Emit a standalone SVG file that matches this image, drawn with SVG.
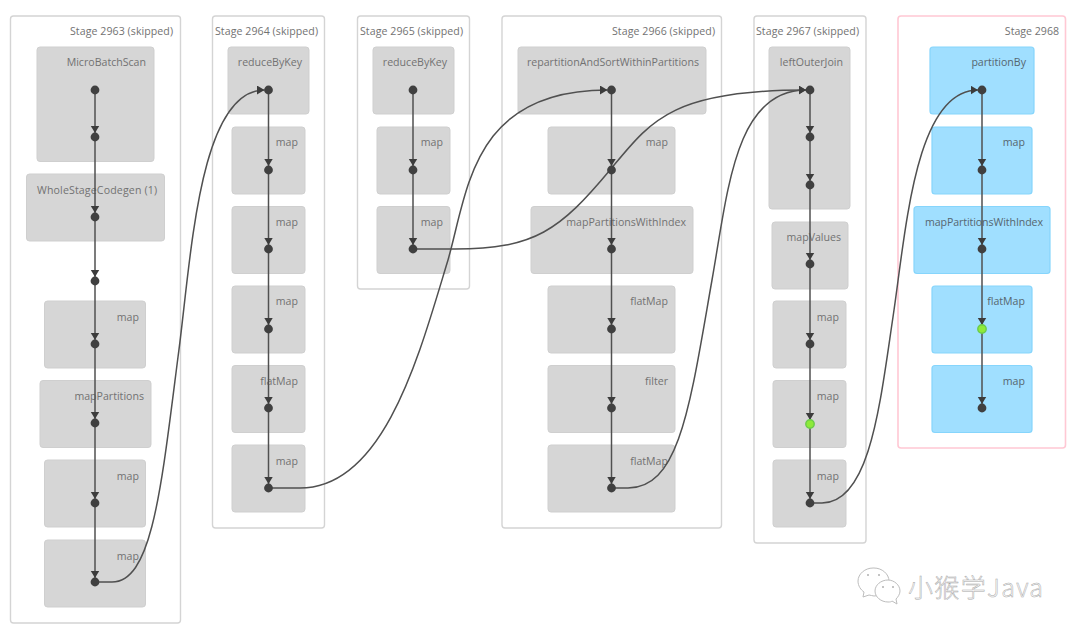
<svg xmlns="http://www.w3.org/2000/svg" width="1080" height="634" viewBox="0 0 1080 634">
<defs>
<style>
text{font-family:"Open Sans","Noto Sans","Liberation Sans",sans-serif;font-size:10.6px;fill:#727272;text-anchor:end}
.bt{fill:#56666f}
.stage{fill:#fff;stroke:#d4d4d4;stroke-width:1.4}
.pink{fill:#fff;stroke:#ffc8d4;stroke-width:1.6}
.op{fill:#d6d6d6;stroke:#cfcfcf;stroke-width:1}
.blue{fill:#a0dfff;stroke:#86d5fc;stroke-width:1.2}
.dot{fill:#404040}
.green{fill:#8eea3a;stroke:#6acb4a;stroke-width:1.4}
.e{fill:none;stroke:#505050;stroke-width:1.5;marker-end:url(#a)}
.wm{font-family:"Noto Sans CJK SC",sans-serif;font-weight:300;font-size:25px;fill:#fff;stroke:#a8a8a8;stroke-width:.5;text-anchor:start}
.ic{fill:#fff;stroke:#bdbdbd;stroke-width:1}
.eye{fill:#b0b0b0}
</style>
<marker id="a" markerUnits="userSpaceOnUse" markerWidth="10" markerHeight="10" refX="7.500" refY="4.500" orient="auto"><path d="M0,0L7.500,4.500L0,9Z" fill="#3c3c3c"/></marker>
</defs>

<g id="stage-2963"><rect class="stage" x="10.500" y="16" width="170" height="607" rx="3"/><text x="173" y="35" textLength="103">Stage 2963 (skipped)</text></g>
<g id="stage-2964"><rect class="stage" x="212.500" y="16" width="112" height="512" rx="3"/><text x="318" y="35" textLength="103">Stage 2964 (skipped)</text></g>
<g id="stage-2965"><rect class="stage" x="357.500" y="16" width="112" height="273" rx="3"/><text x="463" y="35" textLength="103">Stage 2965 (skipped)</text></g>
<g id="stage-2966"><rect class="stage" x="502" y="16" width="219.500" height="512" rx="3"/><text x="715" y="35" textLength="103">Stage 2966 (skipped)</text></g>
<g id="stage-2967"><rect class="stage" x="754" y="16" width="112" height="527" rx="3"/><text x="859" y="35" textLength="103">Stage 2967 (skipped)</text></g>
<g id="stage-2968"><rect class="pink" x="898" y="16" width="167.500" height="432" rx="3"/><text x="1059" y="35">Stage 2968</text></g>

<g id="n63-1"><rect class="op" x="37" y="47" width="117" height="114.500" rx="3"/><text x="146" y="66">MicroBatchScan</text></g>
<g id="n63-2"><rect class="op" x="26.500" y="174" width="138" height="67" rx="3"/><text x="157" y="194" textLength="120">WholeStageCodegen (1)</text></g>
<g id="n63-3"><rect class="op" x="44.500" y="301" width="101" height="67" rx="3"/><text x="139" y="321">map</text></g>
<g id="n63-4"><rect class="op" x="40" y="380.500" width="111" height="67" rx="3"/><text x="144" y="400">mapPartitions</text></g>
<g id="n63-5"><rect class="op" x="44.500" y="460" width="101" height="67" rx="3"/><text x="139" y="480">map</text></g>
<g id="n63-6"><rect class="op" x="44.500" y="540" width="101" height="67" rx="3"/><text x="139" y="560">map</text></g>

<g id="n64-1"><rect class="op" x="228" y="47" width="81" height="67" rx="3"/><text x="302" y="66">reduceByKey</text></g>
<g id="n64-2"><rect class="op" x="232" y="127" width="73" height="67" rx="3"/><text x="298" y="146">map</text></g>
<g id="n64-3"><rect class="op" x="232" y="206.500" width="73" height="67" rx="3"/><text x="298" y="226">map</text></g>
<g id="n64-4"><rect class="op" x="232" y="286" width="73" height="67" rx="3"/><text x="298" y="305">map</text></g>
<g id="n64-5"><rect class="op" x="232" y="365.500" width="73" height="67" rx="3"/><text x="298" y="385">flatMap</text></g>
<g id="n64-6"><rect class="op" x="232" y="445" width="73" height="67" rx="3"/><text x="298" y="465">map</text></g>

<g id="n65-1"><rect class="op" x="373" y="47" width="81" height="67" rx="3"/><text x="447" y="66">reduceByKey</text></g>
<g id="n65-2"><rect class="op" x="377" y="127" width="73" height="67" rx="3"/><text x="443" y="146">map</text></g>
<g id="n65-3"><rect class="op" x="377" y="206.500" width="73" height="67" rx="3"/><text x="443" y="226">map</text></g>

<g id="n66-1"><rect class="op" x="518" y="47" width="188" height="67" rx="3"/><text x="699" y="66">repartitionAndSortWithinPartitions</text></g>
<g id="n66-2"><rect class="op" x="548" y="127" width="127" height="67" rx="3"/><text x="668" y="146">map</text></g>
<g id="n66-3"><rect class="op" x="531" y="206.500" width="162" height="67" rx="3"/><text x="686" y="226">mapPartitionsWithIndex</text></g>
<g id="n66-4"><rect class="op" x="548" y="286" width="127" height="67" rx="3"/><text x="668" y="305">flatMap</text></g>
<g id="n66-5"><rect class="op" x="548" y="365.500" width="127" height="67" rx="3"/><text x="668" y="385">filter</text></g>
<g id="n66-6"><rect class="op" x="548" y="445" width="127" height="67" rx="3"/><text x="668" y="465">flatMap</text></g>

<g id="n67-1"><rect class="op" x="769" y="47" width="81" height="162" rx="3"/><text x="843" y="66">leftOuterJoin</text></g>
<g id="n67-2"><rect class="op" x="772" y="222" width="76" height="67" rx="3"/><text x="841" y="241">mapValues</text></g>
<g id="n67-3"><rect class="op" x="773" y="301" width="73" height="67" rx="3"/><text x="839" y="321">map</text></g>
<g id="n67-4"><rect class="op" x="773" y="380.500" width="73" height="67" rx="3"/><text x="839" y="400">map</text></g>
<g id="n67-5"><rect class="op" x="773" y="460" width="73" height="67" rx="3"/><text x="839" y="480">map</text></g>

<g id="n68-1"><rect class="blue" x="930" y="47" width="104" height="67" rx="3"/><text class="bt" x="1026" y="66">partitionBy</text></g>
<g id="n68-2"><rect class="blue" x="932" y="127" width="100" height="67" rx="3"/><text class="bt" x="1025" y="146">map</text></g>
<g id="n68-3"><rect class="blue" x="914" y="206.500" width="136" height="67" rx="3"/><text class="bt" x="1043" y="226" textLength="118">mapPartitionsWithIndex</text></g>
<g id="n68-4"><rect class="blue" x="932" y="286" width="100" height="67" rx="3"/><text class="bt" x="1025" y="305">flatMap</text></g>
<g id="n68-5"><rect class="blue" x="932" y="365.500" width="100" height="67" rx="3"/><text class="bt" x="1025" y="385">map</text></g>

<g id="connectors">
<path class="e" d="M95,90V133"/><path class="e" d="M95,137V213"/><path class="e" d="M95,217V277"/><path class="e" d="M95,281V340"/><path class="e" d="M95,344V419"/><path class="e" d="M95,423V499"/><path class="e" d="M95,503V578"/>
<path class="e" d="M268.500,90V166"/><path class="e" d="M268.500,170V245"/><path class="e" d="M268.500,249V325"/><path class="e" d="M268.500,329V404"/><path class="e" d="M268.500,408V484"/>
<path class="e" d="M413,90V166"/><path class="e" d="M413,170V245"/>
<path class="e" d="M611.500,90V166"/><path class="e" d="M611.500,170V245"/><path class="e" d="M611.500,249V325"/><path class="e" d="M611.500,329V404"/><path class="e" d="M611.500,408V484"/>
<path class="e" d="M810,90V133"/><path class="e" d="M810,137V181"/><path class="e" d="M810,185V260"/><path class="e" d="M810,264V340"/><path class="e" d="M810,344V420"/><path class="e" d="M810,424V499"/>
<path class="e" d="M982,90V166"/><path class="e" d="M982,170V245"/><path class="e" d="M982,249V325"/><path class="e" d="M982,329V404"/>
<path class="e" d="M95,582H112C152,582 161,490 178,357C191,262 198,90 264.500,90"/>
<path class="e" d="M268.500,488H300C385,488 420,352 448,260C468,190 472,90 607.500,90"/>
<path class="e" d="M413,249H455C535,249 560,230 610,170C650,122 670,90 806,90"/>
<path class="e" d="M611.500,488H628C680,488 690,405 712,280C728,190 735,90 806,90"/>
<path class="e" d="M810,503H822C870,503 880,404 893,317C906,230 915,90 978,90"/>
</g>

<g id="dots">
<g class="dot"><circle cx="95" cy="90" r="4.400"/><circle cx="95" cy="137" r="4.400"/><circle cx="95" cy="217" r="4.400"/><circle cx="95" cy="281" r="4.400"/><circle cx="95" cy="344" r="4.400"/><circle cx="95" cy="423" r="4.400"/><circle cx="95" cy="503" r="4.400"/><circle cx="95" cy="582" r="4.400"/>
<circle cx="268.500" cy="90" r="4.400"/><circle cx="268.500" cy="170" r="4.400"/><circle cx="268.500" cy="249" r="4.400"/><circle cx="268.500" cy="329" r="4.400"/><circle cx="268.500" cy="408" r="4.400"/><circle cx="268.500" cy="488" r="4.400"/>
<circle cx="413" cy="90" r="4.400"/><circle cx="413" cy="170" r="4.400"/><circle cx="413" cy="249" r="4.400"/>
<circle cx="611.500" cy="90" r="4.400"/><circle cx="611.500" cy="170" r="4.400"/><circle cx="611.500" cy="249" r="4.400"/><circle cx="611.500" cy="329" r="4.400"/><circle cx="611.500" cy="408" r="4.400"/><circle cx="611.500" cy="488" r="4.400"/>
<circle cx="810" cy="90" r="4.400"/><circle cx="810" cy="137" r="4.400"/><circle cx="810" cy="185" r="4.400"/><circle cx="810" cy="264" r="4.400"/><circle cx="810" cy="344" r="4.400"/><circle cx="810" cy="503" r="4.400"/>
<circle cx="982" cy="90" r="4.400"/><circle cx="982" cy="170" r="4.400"/><circle cx="982" cy="249" r="4.400"/><circle cx="982" cy="408" r="4.400"/></g>
<circle class="green" cx="810" cy="424" r="4.200"/><circle class="green" cx="982" cy="329" r="4.200"/>
</g>

<g id="watermark">
<path class="ic" d="M873,568c-8,0-15,6-15,13c0,5 3,9 6,11l-1,5l6,-2c2,0 3,1 5,1c8,0 15,-7 15,-15c0,-7-7,-13-15,-13Z"/>
<path class="ic" d="M888,580c-7,0-13,5-13,11c0,6 6,11 13,11c2,0 3,0 4,-1l5,3l-1,-5c2,-2 4,-5 4,-8c0,-6-6,-11-12,-11Z"/>
<circle class="eye" cx="868" cy="575" r="1"/><circle class="eye" cx="879" cy="575" r="1"/><circle class="eye" cx="883" cy="587" r="1"/><circle class="eye" cx="893" cy="587" r="1"/>
<text class="wm" x="908" y="597" textLength="135">小猴学Java</text>
</g>
</svg>
